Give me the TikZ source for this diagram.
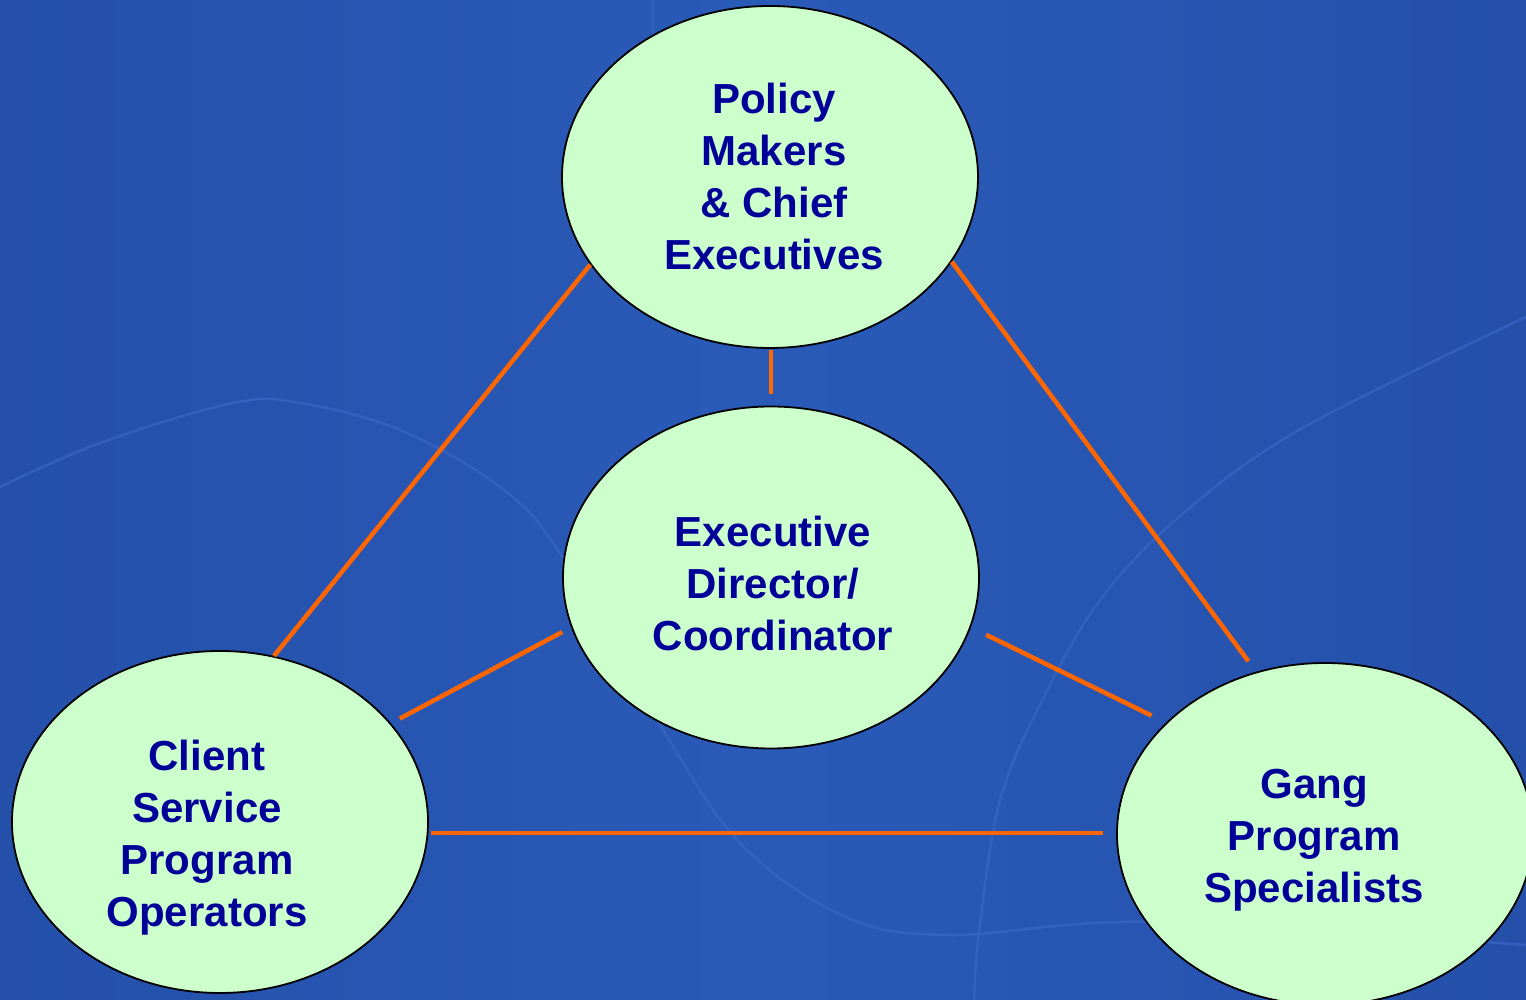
\documentclass[tikz,border=0pt]{standalone}
\usepackage{fontspec}
\setmainfont{Liberation Sans}
\usetikzlibrary{shapes.geometric}
\definecolor{bgdark}{HTML}{2450AA}
\definecolor{bglight}{HTML}{2A5AB8}
\definecolor{curveblue}{HTML}{3A67C6}
\definecolor{bubblegreen}{HTML}{CCFFCC}
\definecolor{navy}{HTML}{000099}
\definecolor{linkorange}{HTML}{FF6600}
\begin{document}
\begin{tikzpicture}[x=1pt,y=1pt,
  bubble/.style={ellipse, draw=black, line width=1.8pt, fill=bubblegreen,
    minimum width=416pt, minimum height=342pt, inner sep=0pt},
  lbl/.style={text=navy, font=\fontsize{42}{52}\selectfont\bfseries, align=center,
    inner sep=0pt},
  link/.style={draw=linkorange, line width=4.5pt},
  glow/.style={draw=curveblue, line width=2.5pt, line cap=round, opacity=0.7}]
% background
\useasboundingbox (0,0) rectangle (1526,1000);
\shade[left color=bgdark, right color=bgdark, middle color=bglight] (0,0) rectangle (1526,1000);
\draw[glow] plot[smooth, tension=0.6] coordinates {(0,513) (100,557) (233,597) (300,597) (400,570) (500,513) (560,447) (657,280) (740,157) (846,83) (951,65) (1150,78) (1526,55)};
\draw[glow] plot[smooth, tension=0.6] coordinates {(1526,683) (1299,570) (1179,483) (1100,400) (1044,303) (1000,200) (979,67) (974,0)};
\draw[glow, opacity=0.5] (653,1000) -- (653,965);
% nodes
\node[bubble, label={[lbl, xshift=4pt]center:{Policy\\Makers\\\& Chief\\Executives}}] (pm) at (770,823) {};
\node[bubble, label={[lbl, xshift=2pt, yshift=-6pt]center:{Executive\\Director/\\Coordinator}}] (ed) at (771,422.5) {};
\node[bubble, label={[lbl, xshift=-13pt, yshift=-16pt]center:{Client\\Service\\Program\\Operators}}] (cso) at (220,178) {};
\node[bubble, label={[lbl, xshift=-11pt, yshift=-6pt]center:{Gang\\Program\\Specialists}}] (gps) at (1325,166) {};
% connectors
\draw[link] (pm.206.7) -- (cso.72.3);
\draw[link, shorten >=13pt] (pm.335.1) -- (gps.113.2);
\draw[link, shorten <=1pt, shorten >=12pt] (ed.north |- pm.south) -- (ed.north);
\draw[link, shorten <=10pt, shorten >=10pt] (ed.194.4) -- (cso.30.2);
\draw[link, shorten <=17pt, shorten >=16pt] (ed.346.7) -- (gps.145.9);
\draw[link, shorten <=3pt, shorten >=13pt] (cso.357.2) -- (cso.357.2 -| gps.west);
\end{tikzpicture}
\end{document}
